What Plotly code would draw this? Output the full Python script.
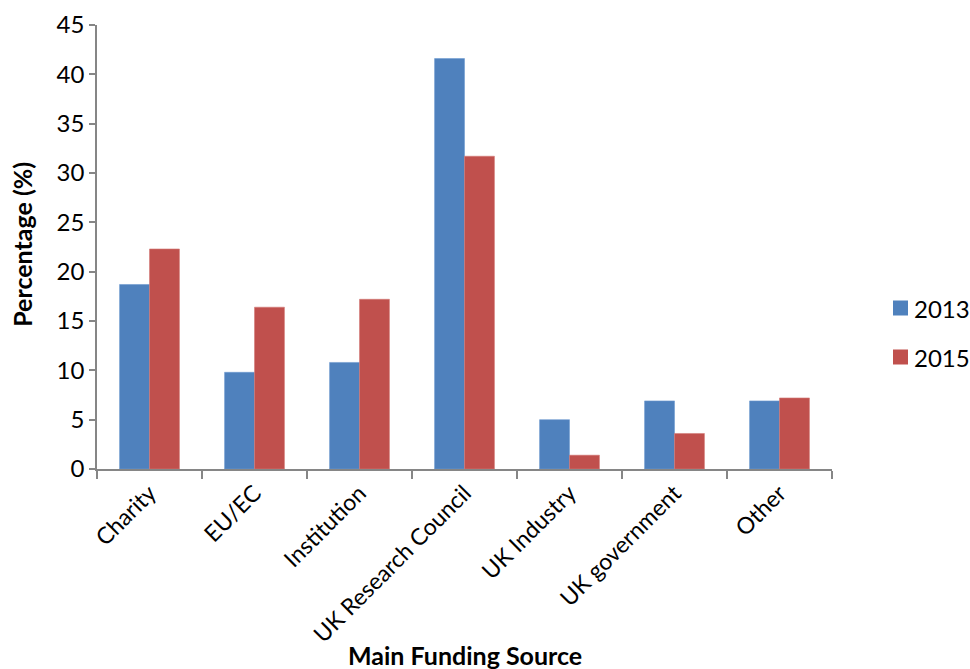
import plotly.graph_objects as go

categories = ["Charity", "EU/EC", "Institution", "UK Research Council",
              "UK Industry", "UK government", "Other"]
pct_2013 = [18.7, 9.8, 10.8, 41.6, 5.0, 6.9, 6.9]
pct_2015 = [22.3, 16.4, 17.2, 31.7, 1.4, 3.6, 7.2]
y_ticks = [0, 5, 10, 15, 20, 25, 30, 35, 40, 45]
series = [("2013", pct_2013, "#4F81BD", "#6f9bd0"),
          ("2015", pct_2015, "#C0504D", "#d47a77")]

FONT = "Lato, Noto Sans, sans-serif"
AXIS = "#868686"
W, H = 970, 669
M = dict(l=97, r=138, t=25, b=200)
PW, PH = W - M["l"] - M["r"], H - M["t"] - M["b"]

fig = go.Figure()
for name, vals, fill, edge in series:
    fig.add_trace(go.Bar(x=categories, y=vals, name=name,
                         marker=dict(color=fill, line=dict(color=edge, width=0.6))))

fig.update_layout(
    width=W, height=H, margin=M,
    paper_bgcolor="white", plot_bgcolor="white",
    barmode="group", bargap=0.43, bargroupgap=0,
    font=dict(family=FONT, size=22, color="black"),
    showlegend=False,
)

# Legend drawn in the right margin: a colour square plus its label per series
legend_y_px = [308, 357]
for (name, _, fill, _), ypx in zip(series, legend_y_px):
    yc = (H - M["b"] - ypx) / PH
    x0 = (893 - M["l"]) / PW
    x1 = (908 - M["l"]) / PW
    fig.add_shape(type="rect", xref="paper", yref="paper",
                  x0=x0, x1=x1, y0=yc - 7.5 / PH, y1=yc + 7.5 / PH,
                  fillcolor=fill, line=dict(width=0))
    fig.add_annotation(text=name, xref="paper", yref="paper",
                       x=(912 - M["l"]) / PW, y=yc, xanchor="left", yanchor="middle",
                       showarrow=False, font=dict(size=24, family=FONT))

fig.update_xaxes(
    showline=True, linecolor=AXIS, linewidth=1.5,
    ticks="outside", tickson="boundaries", ticklen=8, tickcolor=AXIS, tickwidth=1.5,
    tickangle=-45, tickfont=dict(size=23, family=FONT),
    showgrid=False, automargin=False,
)
fig.update_yaxes(
    range=[0, 45], tickvals=y_ticks, showline=True, linecolor=AXIS, linewidth=1.5,
    ticks="outside", ticklen=6, tickcolor=AXIS, tickwidth=1.5,
    tickfont=dict(size=24, family=FONT), showgrid=False, zeroline=False,
    automargin=False,
)

fig.add_annotation(text="<b>Main Funding Source</b>", xref="paper", yref="paper",
                   x=0.5, y=0, yshift=-186, showarrow=False,
                   font=dict(size=25, family=FONT), yanchor="middle")
fig.add_annotation(text="<b>Percentage (%)</b>", xref="paper", yref="paper",
                   x=0, xshift=-75, y=0.505, showarrow=False, textangle=-90,
                   font=dict(size=25, family=FONT), xanchor="center")

fig.write_html("out.html")
